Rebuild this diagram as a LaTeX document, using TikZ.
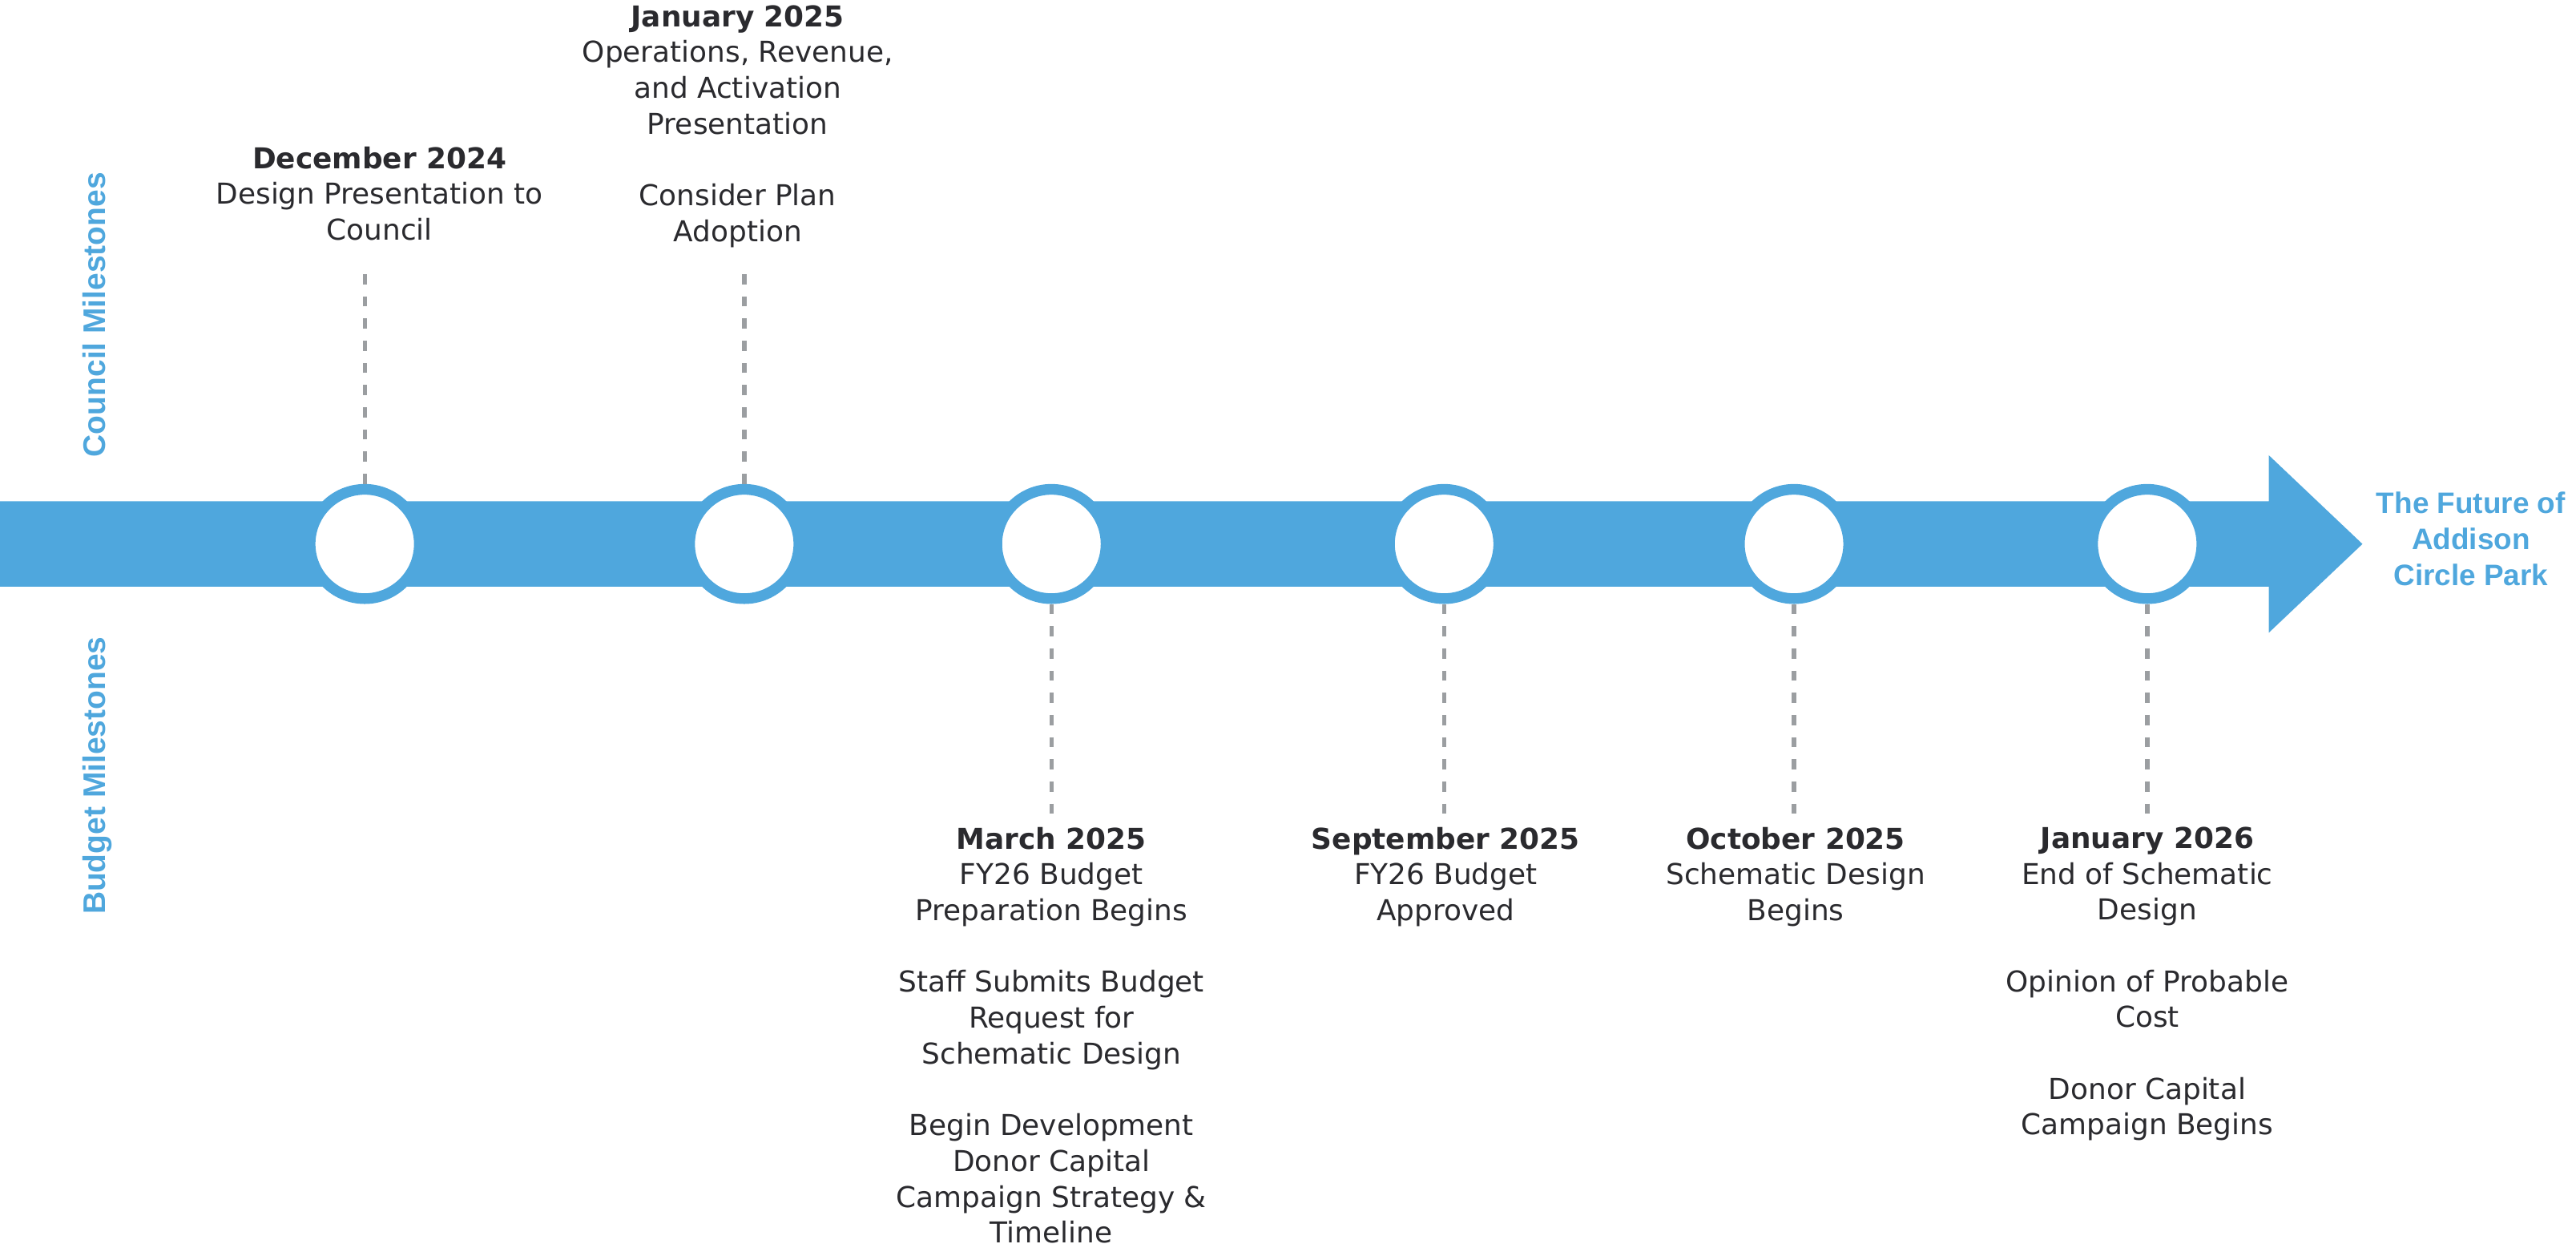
\documentclass[tikz,border=0pt]{standalone}
\usepackage{fontspec}
\setmainfont{DejaVu Sans}
\newfontfamily\labelfont{Liberation Sans}
\definecolor{tlblue}{HTML}{4FA7DD}
\definecolor{tltext}{HTML}{2A2A2E}
\definecolor{tlgray}{HTML}{9B9EA1}

\begin{document}
\begin{tikzpicture}[x=1pt, y=-1pt,
    dot/.style={circle, draw=tlblue, fill=white, line width=6.5pt, minimum size=66.5pt, inner sep=0pt},
    stem/.style={tlgray, line width=2.6pt, dash pattern=on 6.2pt off 7.3pt},
    milestone/.style={align=center, inner sep=0pt, anchor=north, text=tltext, font=\fontsize{17.5}{21.8}\selectfont},
    side/.style={rotate=90, anchor=base, text=tlblue, font=\labelfont\bfseries\fontsize{19}{22}\selectfont}]
    \useasboundingbox (0,0) rectangle (1568,759);

    % arrow
    \fill[tlblue] (0,305) -- (1381,305) -- (1381,277) -- (1438,331) -- (1381,385) -- (1381,357) -- (0,357) -- cycle;

    \foreach \n/\x in {dec/222, jan/453, mar/640, sep/879, oct/1092, jan26/1307} {
      \node[dot] (\n) at (\x,331) {};
    }

    % side labels
    \node[side] (council) at (64,191.5) {Council Milestones};
    \node[side] (budget) at (64,472) {Budget Milestones};

    % council milestones
    \node[milestone] (dec text) at (231,89) {\textbf{December 2024}\\Design Presentation to\\Council};
    \node[milestone] (jan text) at (449,3) {\textbf{January 2025}\\Operations, Revenue,\\and Activation\\Presentation\\[21.8pt]Consider Plan\\Adoption};

    % budget milestones
    \node[milestone] (mar text) at (640,503) {\textbf{March 2025}\\FY26 Budget\\Preparation Begins\\[21.8pt]Staff Submits Budget\\Request for\\Schematic Design\\[21.8pt]Begin Development\\Donor Capital\\Campaign Strategy \&\\Timeline};
    \node[milestone] (sep text) at (880,503) {\textbf{September 2025}\\FY26 Budget\\Approved};
    \node[milestone] (oct text) at (1093,503) {\textbf{October 2025}\\Schematic Design\\Begins};
    \node[milestone] (jan26 text) at (1307,503) {\textbf{January 2026}\\End of Schematic\\Design\\[21.8pt]Opinion of Probable\\Cost\\[21.8pt]Donor Capital\\Campaign Begins};

    \node[align=center, text=tlblue, font=\labelfont\bfseries\fontsize{18}{22}\selectfont] (future) at (1504,328) {The Future of\\Addison\\Circle Park};

    % stems
    \coordinate (upper stop) at (0,162);
    \foreach \n in {dec, jan} {
      \draw[stem] (\n.north) -- (\n.north |- upper stop);
    }
    \foreach \n in {mar, sep, oct, jan26} {
      \draw[stem, shorten >=6pt] (\n.south) -- (\n.south |- \n\space text.north);
    }
\end{tikzpicture}
\end{document}
